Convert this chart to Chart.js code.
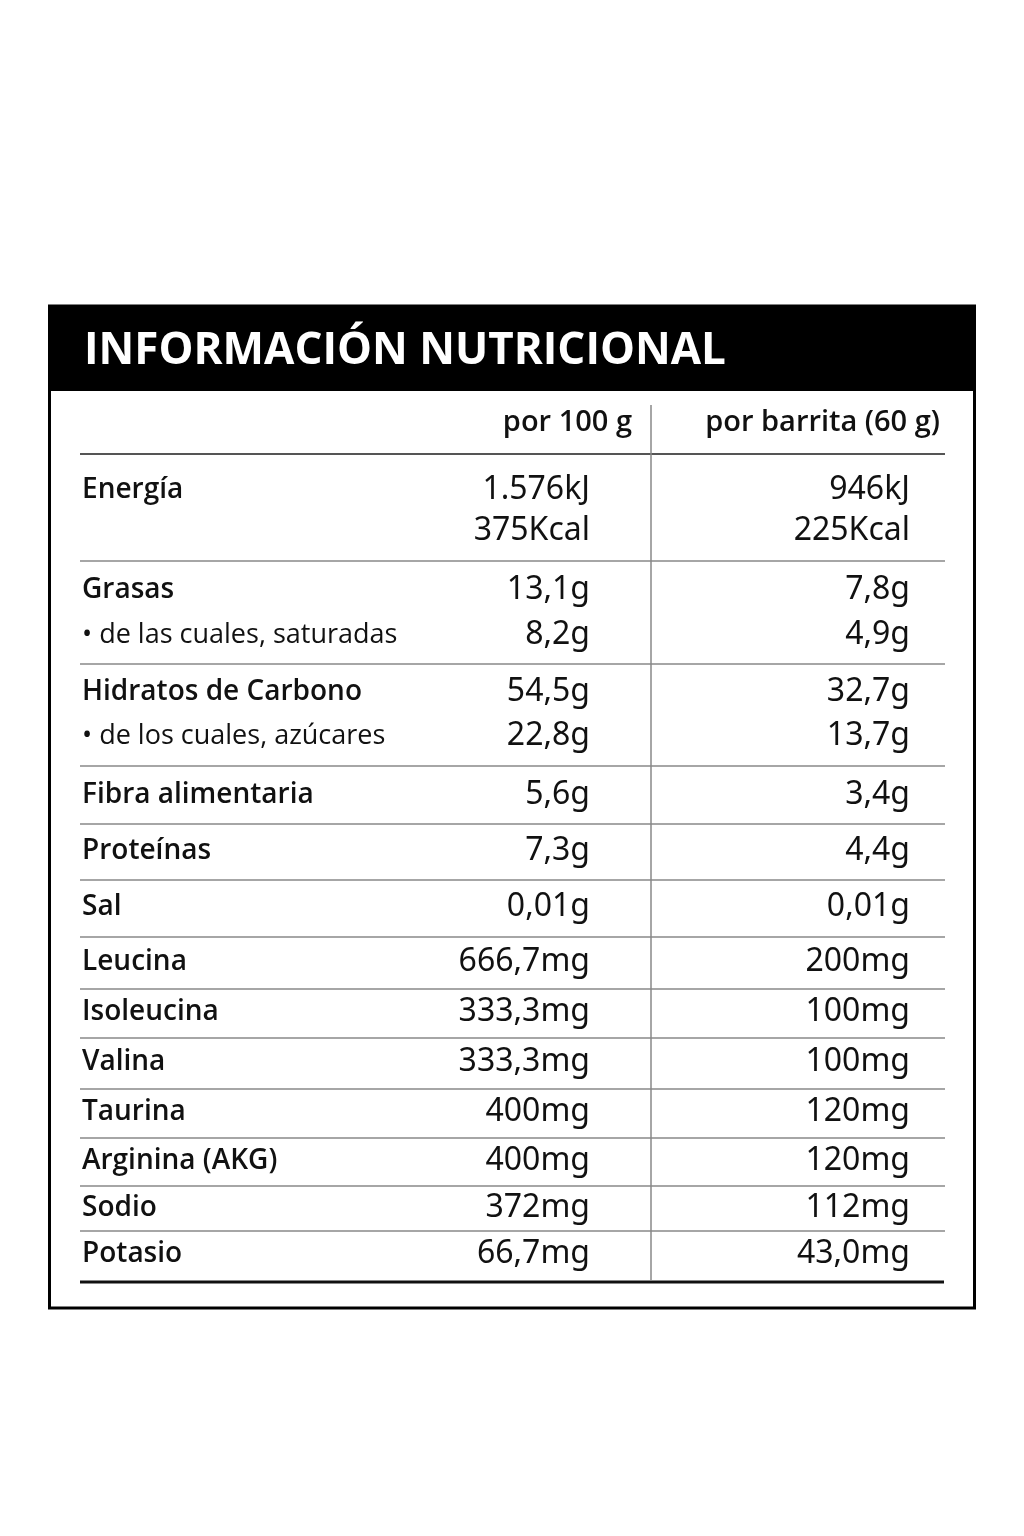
<!DOCTYPE html>
<html>
<head>
<meta charset="utf-8">
<script src="https://cdn.jsdelivr.net/npm/chart.js@4.4.1/dist/chart.umd.min.js"></script>
<style>
  html, body { margin: 0; padding: 0; background: #ffffff; }
  #wrap { width: 1024px; height: 1536px; }
</style>
</head>
<body>
<div id="wrap"><canvas id="tabla"></canvas></div>
<script>
// Datos de la tabla
const title = 'INFORMACIÓN NUTRICIONAL';
const colHeaders = ['por 100 g', 'por barrita (60 g)'];
const nutrients = ['Energía', '', 'Grasas', '• de las cuales, saturadas', 'Hidratos de Carbono', '• de los cuales, azúcares',
    'Fibra alimentaria', 'Proteínas', 'Sal', 'Leucina', 'Isoleucina', 'Valina', 'Taurina', 'Arginina (AKG)', 'Sodio', 'Potasio'];
const per100 = ['1.576kJ', '375Kcal', '13,1g', '8,2g', '54,5g', '22,8g', '5,6g', '7,3g', '0,01g',
    '666,7mg', '333,3mg', '333,3mg', '400mg', '400mg', '372mg', '66,7mg'];
const perBar = ['946kJ', '225Kcal', '7,8g', '4,9g', '32,7g', '13,7g', '3,4g', '4,4g', '0,01g',
    '200mg', '100mg', '100mg', '120mg', '120mg', '112mg', '43,0mg'];
const subRow = [false, false, false, true, false, true, false, false, false, false, false, false, false, false, false, false];

// Maquetación (coordenadas en unidades de escala)
const rowY = [490, 531, 590, 635, 692, 736, 795, 851, 907, 962, 1012, 1062, 1112, 1161, 1208, 1254];
const lineY = [561, 664, 766, 824, 880, 937, 989, 1038, 1089, 1138, 1186, 1231];

const tablePlugin = {
    id: 'tabla',
    afterDraw(chart) {
        const { ctx, scales: { x, y } } = chart;
        const X = v => x.getPixelForValue(v);
        const Y = v => y.getPixelForValue(v);
        ctx.save();

        // Marco y cabecera negra
        ctx.fillStyle = '#000';
        ctx.fillRect(X(48), Y(305), X(976) - X(48), Y(391) - Y(305));
        ctx.strokeStyle = '#000';
        ctx.lineWidth = 3;
        ctx.strokeRect(X(49.5), Y(306), X(974.5) - X(49.5), Y(1308) - Y(306));

        ctx.fillStyle = '#fff';
        ctx.font = 'bold 44px "Open Sans", sans-serif';
        ctx.textBaseline = 'middle';
        ctx.textAlign = 'left';
        ctx.fillText(title, X(84), Y(351));

        // Cabeceras de columna
        ctx.fillStyle = '#111';
        ctx.font = '600 29px "Open Sans", sans-serif';
        ctx.textAlign = 'right';
        ctx.fillText(colHeaders[0], X(632), Y(423));
        ctx.fillText(colHeaders[1], X(940), Y(423));

        // Líneas
        ctx.strokeStyle = '#555';
        ctx.lineWidth = 2;
        ctx.beginPath(); ctx.moveTo(X(80), Y(454)); ctx.lineTo(X(945), Y(454)); ctx.stroke();
        ctx.strokeStyle = '#888';
        ctx.lineWidth = 1.5;
        lineY.forEach(l => { ctx.beginPath(); ctx.moveTo(X(80), Y(l)); ctx.lineTo(X(945), Y(l)); ctx.stroke(); });
        ctx.beginPath(); ctx.moveTo(X(651), Y(405)); ctx.lineTo(X(651), Y(1280)); ctx.stroke();
        ctx.strokeStyle = '#111';
        ctx.lineWidth = 3;
        ctx.beginPath(); ctx.moveTo(X(80), Y(1282)); ctx.lineTo(X(944), Y(1282)); ctx.stroke();

        // Filas
        nutrients.forEach((n, i) => {
            ctx.textAlign = 'left';
            ctx.fillStyle = '#111';
            ctx.font = subRow[i] ? '400 27px "Open Sans", sans-serif' : '600 28px "Open Sans", sans-serif';
            if (n) ctx.fillText(n, X(82), Y(rowY[i]));
            ctx.textAlign = 'right';
            ctx.font = '400 32px "Noto Sans", sans-serif';
            ctx.fillText(per100[i], X(590), Y(rowY[i]));
            ctx.fillText(perBar[i], X(910), Y(rowY[i]));
        });
        ctx.restore();
    }
};

new Chart(document.getElementById('tabla'), {
    type: 'scatter',
    data: { datasets: [{ data: rowY.map(v => ({ x: 0, y: v })), pointRadius: 0 }] },
    options: {
        responsive: true,
        maintainAspectRatio: false,
        animation: false,
        layout: { padding: 0 },
        plugins: { legend: { display: false }, tooltip: { enabled: false } },
        scales: {
            x: { type: 'linear', min: 0, max: 1024, display: false },
            y: { type: 'linear', min: 0, max: 1536, reverse: true, display: false }
        }
    },
    plugins: [tablePlugin]
});
</script>
</body>
</html>
